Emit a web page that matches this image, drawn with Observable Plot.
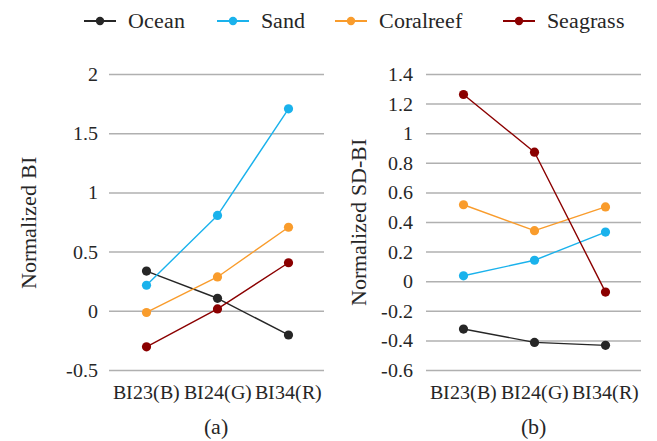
<!DOCTYPE html>
<html>
<head>
<meta charset="utf-8">
<script src="https://cdn.jsdelivr.net/npm/d3@7"></script>
<script src="https://cdn.jsdelivr.net/npm/@observablehq/plot@0.6"></script>
<style>
@font-face { font-family: "ChartSerif"; src: local("Liberation Serif"), local("LiberationSerif"), local("LiberationSerif-Regular"), local("Times New Roman"); }
</style>
</head>
<body style="margin:0;padding:0;background:#fff;font-family:'Liberation Serif';color:#262626;">
<div id="root" style="position:relative;width:657px;height:441px;overflow:hidden;font-family:'ChartSerif','Liberation Serif',serif;">
  <div id="legend" style="position:absolute;left:0;top:0;width:657px;height:40px;"></div>
  <div id="pa" style="position:absolute;top:40px;left:0px;"></div>
  <div id="pb" style="position:absolute;top:40px;left:328px;"></div>
  <div style="position:absolute;top:414px;left:0px;width:432px;text-align:center;font-size:22px;">(a)</div>
  <div style="position:absolute;top:414px;left:328px;width:410px;text-align:center;font-size:22px;">(b)</div>
</div>
<script>
const categories = ["BI23(B)", "BI24(G)", "BI34(R)"];
const seriesNames = ["Ocean", "Sand", "Coralreef", "Seagrass"];
const seriesColors = ["#262626", "#1ab2ec", "#f99c2c", "#8b0000"];

// Panel (a): Normalized BI
const biOcean = [0.34, 0.11, -0.20];
const biSand = [0.22, 0.81, 1.71];
const biCoralreef = [-0.01, 0.29, 0.71];
const biSeagrass = [-0.30, 0.02, 0.41];
const biTicks = [-0.5, 0, 0.5, 1, 1.5, 2];

// Panel (b): Normalized SD-BI
const sdOcean = [-0.32, -0.41, -0.43];
const sdSand = [0.04, 0.145, 0.335];
const sdCoralreef = [0.52, 0.345, 0.505];
const sdSeagrass = [1.265, 0.875, -0.07];
const sdTicks = [-0.6, -0.4, -0.2, 0, 0.2, 0.4, 0.6, 0.8, 1, 1.2, 1.4];

const FONT = "ChartSerif, 'Liberation Serif', serif";

function toRows(seriesArrays) {
  const rows = [];
  seriesArrays.forEach((vals, si) => {
    vals.forEach((v, ci) => rows.push({series: seriesNames[si], cat: categories[ci], value: v}));
  });
  return rows;
}

const colorScale = {domain: seriesNames, range: seriesColors};

function panel({rows, ticks, label, marginLeft, marginRight, width, labelOffset, tickPadding}) {
  return Plot.plot({
    width, height: 375,
    marginTop: 34, marginBottom: 45, marginLeft, marginRight,
    style: {fontFamily: FONT, fontSize: "20px", color: "#262626"},
    x: {type: "point", domain: categories, padding: 0.5, label: null},
    y: {domain: [ticks[0], ticks[ticks.length - 1]]},
    color: colorScale,
    marks: [
      Plot.gridY(ticks, {stroke: "#b0b0b0", strokeOpacity: 1, strokeWidth: 1.5}),
      Plot.axisY(ticks, {tickSize: 0, tickPadding, tickFormat: d => String(d), label, labelAnchor: "center", labelArrow: "none", labelOffset}),
      Plot.axisX({tickSize: 0, tickPadding: 14, label: null}),
      Plot.line(rows, {x: "cat", y: "value", z: "series", stroke: "series", strokeWidth: 1.4}),
      Plot.dot(rows, {x: "cat", y: "value", fill: "series", r: 4.6})
    ]
  });
}

const pa = panel({
  rows: toRows([biOcean, biSand, biCoralreef, biSeagrass]),
  ticks: biTicks, label: "Normalized BI",
  width: 328, marginLeft: 109, marginRight: 4, labelOffset: 89, tickPadding: 12
});
const pb = panel({
  rows: toRows([sdOcean, sdSand, sdCoralreef, sdSeagrass]),
  ticks: sdTicks, label: "Normalized SD-BI",
  width: 329, marginLeft: 98, marginRight: 16, labelOffset: 76, tickPadding: 14
});
[pa, pb].forEach(svg => {
  svg.querySelectorAll("text").forEach(t => { t.style.fontFamily = FONT; });
  svg.querySelectorAll("g[aria-label='y-axis label'] text").forEach(t => { t.style.fontSize = "22px"; });
});
document.getElementById("pa").appendChild(pa);
document.getElementById("pb").appendChild(pb);

// Legend
const legendLefts = [84, 217, 335, 503];
const legend = document.getElementById("legend");
seriesNames.forEach((name, i) => {
  const item = document.createElement("div");
  item.style.cssText = `position:absolute;top:8px;left:${legendLefts[i]}px;height:26px;display:flex;align-items:center;font-size:22px;`;
  item.innerHTML = `<svg width="32" height="12" style="margin-right:12px"><line x1="0" y1="6" x2="32" y2="6" stroke="${seriesColors[i]}" stroke-width="2"/><circle cx="16" cy="6" r="4.2" fill="${seriesColors[i]}"/></svg><span>${name}</span>`;
  legend.appendChild(item);
});
</script>
</body>
</html>
